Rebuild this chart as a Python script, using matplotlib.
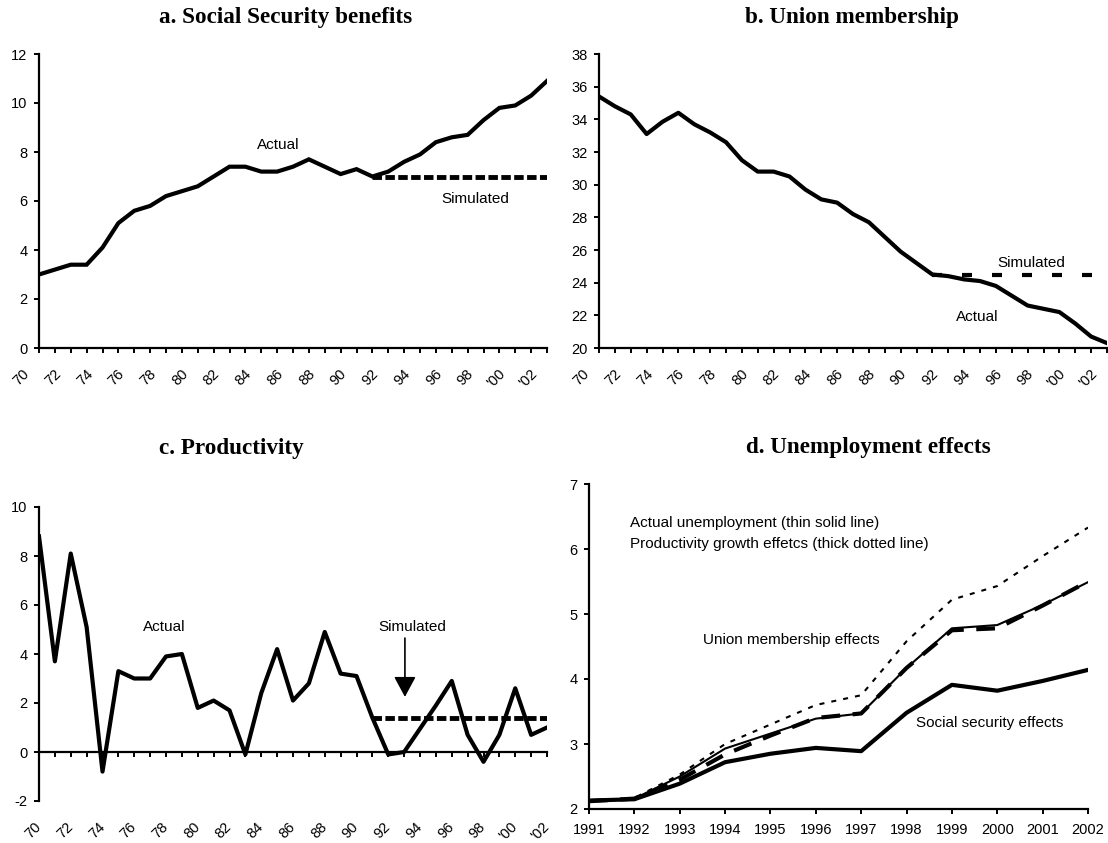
import matplotlib
matplotlib.use("Agg")
import matplotlib.pyplot as plt
from matplotlib.transforms import ScaledTranslation

plt.rcParams['font.family'] = ['Liberation Sans', 'DejaVu Sans']
plt.rcParams['axes.unicode_minus'] = False

# Data
years = list(range(1970, 2003))
year_labels = [("'%02d" % (y % 100) if y >= 2000 else "%02d" % (y % 100)) if y % 2 == 0 else ''
               for y in years]

ss_actual = [3.0, 3.2, 3.4, 3.4, 4.1, 5.1, 5.6, 5.8, 6.2, 6.4, 6.6, 7.0, 7.4, 7.4, 7.2, 7.2, 7.4,
             7.7, 7.4, 7.1, 7.3, 7.0, 7.2, 7.6, 7.9, 8.4, 8.6, 8.7, 9.3, 9.8, 9.9, 10.3, 10.9]
union_actual = [35.4, 34.8, 34.3, 33.1, 33.85, 34.4, 33.7, 33.2, 32.6, 31.5, 30.8, 30.8, 30.5,
                29.7, 29.1, 28.9, 28.2, 27.7, 26.8, 25.9, 25.2, 24.5, 24.4, 24.2, 24.1, 23.8,
                23.2, 22.6, 22.4, 22.2, 21.5, 20.7, 20.3]
prod_actual = [8.8, 3.7, 8.1, 5.1, -0.8, 3.3, 3.0, 3.0, 3.9, 4.0, 1.8, 2.1, 1.7, -0.1, 2.4, 4.2,
               2.1, 2.8, 4.9, 3.2, 3.1, 1.4, -0.1, 0.0, 0.95, 1.9, 2.9, 0.7, -0.4, 0.7, 2.6,
               0.7, 1.0]

sim_years = list(range(1991, 2003))
ss_sim = [7.0] * len(sim_years)
union_sim = [24.5] * len(sim_years)
prod_sim = [1.4] * len(sim_years)

d_years = list(range(1991, 2003))
d_actual = [2.12, 2.16, 2.50, 2.93, 3.16, 3.39, 3.47, 4.17, 4.78, 4.83, 5.14, 5.49]
d_union = [2.12, 2.17, 2.53, 3.00, 3.30, 3.60, 3.75, 4.58, 5.22, 5.43, 5.89, 6.33]
d_prod = [2.12, 2.16, 2.45, 2.84, 3.13, 3.40, 3.47, 4.17, 4.75, 4.78, 5.13, 5.50]
d_ss = [2.13, 2.15, 2.39, 2.72, 2.85, 2.94, 2.89, 3.48, 3.91, 3.82, 3.97, 4.14]

W, H = 1108, 843
fig = plt.figure(figsize=(W / 100, H / 100), dpi=100)


def px_axes(left, top, right, bottom):
    return fig.add_axes([left / W, 1 - bottom / H, (right - left) / W, (bottom - top) / H])


def style(ax):
    for s in ('top', 'right'):
        ax.spines[s].set_visible(False)
    for s in ('left', 'bottom'):
        ax.spines[s].set_linewidth(1.6)
    ax.tick_params(direction='out', length=3.8, width=1.4, labelsize=10.5, colors='k')
    ax.tick_params(axis='y', pad=4.5)


def year_ticks(ax):
    ax.set_xlim(1970, 2002)
    ax.set_xticks(years, year_labels)
    ax.tick_params(axis='x', pad=13)
    shift = ScaledTranslation(-0.12, 0, fig.dpi_scale_trans)
    for lab in ax.get_xticklabels():
        lab.set_rotation(45)
        lab.set_ha('right')
        lab.set_va('center')
        lab.set_rotation_mode('anchor')
        lab.set_transform(lab.get_transform() + shift)


txt = dict(fontsize=11, ha='center', va='center')
title_kw = dict(fontsize=16.7, fontweight='bold', family='Liberation Serif',
                ha='center', va='center')

# a. Social Security benefits
ax1 = px_axes(39, 54, 547, 348)
style(ax1)
ax1.plot(years, ss_actual, color='k', lw=3, solid_joinstyle='miter')
ax1.plot(sim_years, ss_sim, color='k', lw=3.5, dashes=(1.95, 0.7))
ax1.set_ylim(0, 12)
ax1.set_yticks(range(0, 13, 2))
year_ticks(ax1)
ax1.text(1985.1, 8.3, 'Actual', **txt)
ax1.text(1997.5, 6.08, 'Simulated', **txt)
fig.text(286 / W, 1 - 17 / H, 'a. Social Security benefits', **title_kw)

# b. Union membership
ax2 = px_axes(599, 54, 1107, 348)
style(ax2)
ax2.plot(years, union_actual, color='k', lw=3)
ax2.plot(sim_years, union_sim, color='k', lw=3, dashes=(2.4, 4.8))
ax2.set_ylim(20, 38)
ax2.set_yticks(range(20, 39, 2))
year_ticks(ax2)
ax2.text(1997.2, 25.2, 'Simulated', **txt)
ax2.text(1993.8, 21.9, 'Actual', **txt)
fig.text(852 / W, 1 - 17 / H, 'b. Union membership', **title_kw)

# c. Productivity
ax3 = px_axes(39, 507, 547, 801)
style(ax3)
ax3.plot(years, prod_actual, color='k', lw=3)
ax3.plot(sim_years, prod_sim, color='k', lw=3.5, dashes=(1.95, 0.7))
ax3.set_ylim(-2, 10)
ax3.set_yticks(range(-2, 11, 2))
year_ticks(ax3)
ax3.spines['bottom'].set_visible(False)
ax3.tick_params(axis='x', length=0, pad=13 + 3.8)
zero = ax3.secondary_xaxis((0 - (-2)) / 12)
zero.spines['bottom'].set_linewidth(1.6)
zero.set_xticks(years, [''] * len(years))
zero.tick_params(direction='out', length=3.8, width=1.4)
ax3.text(1977.9, 5.1, 'Actual', **txt)
ax3.text(1993.5, 5.1, 'Simulated', **txt)
ax3.annotate('', xy=(1993.05, 2.25), xytext=(1993.05, 4.65),
             arrowprops=dict(arrowstyle='-|>,head_length=0.5,head_width=0.27',
                             mutation_scale=25, lw=1.2, color='k',
                             shrinkA=0, shrinkB=0))
fig.text(231 / W, 1 - 449 / H, 'c. Productivity', **title_kw)

# d. Unemployment effects
ax4 = px_axes(589, 484, 1088, 809)
style(ax4)
ax4.plot(d_years, d_union, color='k', lw=1.5, dashes=(2.4, 3.4))
ax4.plot(d_years, d_actual, color='k', lw=1.5)
ax4.plot(d_years, d_prod, color='k', lw=3, dashes=(4.5, 3))
ax4.plot(d_years, d_ss, color='k', lw=3)
ax4.set_xlim(1991, 2002)
ax4.set_ylim(2, 7)
ax4.set_xticks(d_years)
ax4.set_yticks(range(2, 8))
ax4.tick_params(axis='x', pad=6)
ax4.text(1991.9, 6.4, 'Actual unemployment (thin solid line)', fontsize=11, ha='left', va='center')
ax4.text(1991.9, 6.08, 'Productivity growth effetcs (thick dotted line)', fontsize=11,
         ha='left', va='center')
ax4.text(1995.47, 4.6, 'Union membership effects', **txt)
ax4.text(1999.83, 3.32, 'Social security effects', **txt)
fig.text(868 / W, 1 - 448 / H, 'd. Unemployment effects', **title_kw)

fig.savefig('out.png', dpi=100)
